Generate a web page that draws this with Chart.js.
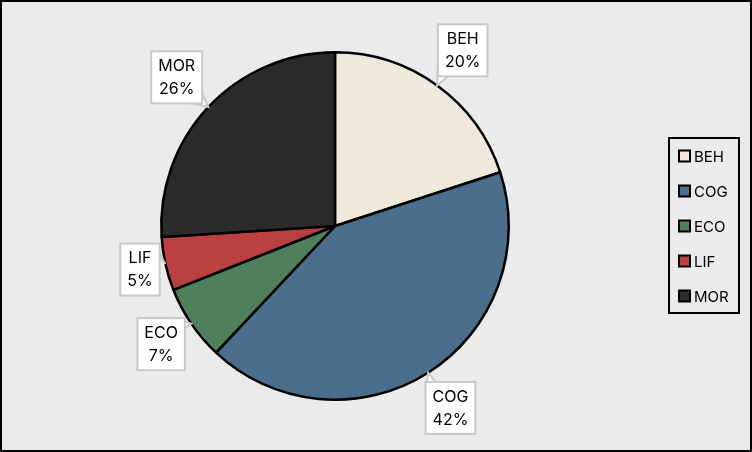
<!DOCTYPE html>
<html>
<head>
<meta charset="utf-8">
<script src="https://cdn.jsdelivr.net/npm/chart.js@4/dist/chart.umd.min.js"></script>
<style>
  html, body { margin: 0; padding: 0; background: #ebebeb; }
  #wrap { width: 752px; height: 452px; }
</style>
</head>
<body>
<div id="wrap"><canvas id="myChart" width="752" height="452"></canvas></div>
<script>
const labels = ['BEH', 'COG', 'ECO', 'LIF', 'MOR'];
const shares = [20, 42, 7, 5, 26];
const colors = ['#efe8dc', '#4a6e8b', '#4f7f5b', '#bb4040', '#2b2b2b'];

const FONT = 'Inter, "Liberation Sans", sans-serif';
// how far out each callout sits, as a multiple of the pie radius
const calloutDist = [1.25, 1.24, 1.21, 1.15, 1.25];

// background + outer frame
const frame = {
  id: 'frame',
  beforeDraw(chart) {
    const ctx = chart.ctx;
    ctx.save();
    ctx.fillStyle = '#ebebeb';
    ctx.fillRect(0, 0, chart.width, chart.height);
    ctx.restore();
  },
  afterDraw(chart) {
    const ctx = chart.ctx;
    ctx.save();
    ctx.strokeStyle = '#000';
    ctx.lineWidth = 2;
    ctx.strokeRect(1, 1, chart.width - 2, chart.height - 2);
    ctx.restore();
  }
};

// callout labels with pointer
const callouts = {
  id: 'callouts',
  afterDatasetsDraw(chart) {
    const ctx = chart.ctx;
    const meta = chart.getDatasetMeta(0);
    const vals = chart.data.datasets[0].data;
    const total = vals.reduce((a, b) => a + b, 0);
    ctx.save();
    ctx.font = '16px ' + FONT;
    meta.data.forEach((arc, i) => {
      const p = arc.getProps(['x', 'y', 'startAngle', 'endAngle', 'outerRadius'], true);
      const mid = (p.startAngle + p.endAngle) / 2;
      const cos = Math.cos(mid), sin = Math.sin(mid);
      const tx = p.x + p.outerRadius * cos;
      const ty = p.y + p.outerRadius * sin;
      const bx = p.x + p.outerRadius * calloutDist[i] * cos;
      const by = p.y + p.outerRadius * calloutDist[i] * sin;
      const l1 = chart.data.labels[i];
      const l2 = Math.round(vals[i] / total * 100) + '%';
      const w = Math.max(ctx.measureText(l1).width, ctx.measureText(l2).width) + 14;
      const h = 52;
      const x0 = bx - w / 2, y0 = by - h / 2;
      // corner nearest the tip
      const cx = tx < bx ? x0 : x0 + w;
      const cy = ty < by ? y0 : y0 + h;
      const sx = tx < bx ? 1 : -1;
      const sy = ty < by ? 1 : -1;
      ctx.beginPath();
      ctx.moveTo(tx, ty);
      ctx.lineTo(cx + sx * 10, cy);
      ctx.lineTo(cx, cy + sy * 10);
      ctx.closePath();
      ctx.fillStyle = '#fff';
      ctx.fill();
      ctx.strokeStyle = '#c8c8c8';
      ctx.lineWidth = 2;
      ctx.stroke();
      ctx.fillRect(x0, y0, w, h);
      ctx.strokeRect(x0, y0, w, h);
      ctx.fillStyle = '#000';
      ctx.textAlign = 'center';
      ctx.textBaseline = 'middle';
      ctx.fillText(l1, bx, by - 11);
      ctx.fillText(l2, bx, by + 12);
    });
    ctx.restore();
  }
};

// boxed legend on the right
const boxLegend = {
  id: 'boxLegend',
  afterDraw(chart) {
    const ctx = chart.ctx;
    const left = 669, top = 138, bw = 70, bh = 175;
    ctx.save();
    ctx.strokeStyle = '#000';
    ctx.lineWidth = 2;
    ctx.strokeRect(left, top, bw, bh);
    ctx.font = '15px ' + FONT;
    ctx.textBaseline = 'middle';
    ctx.textAlign = 'left';
    chart.data.labels.forEach((lab, i) => {
      const yc = top + 18 + i * 35;
      ctx.fillStyle = colors[i];
      ctx.fillRect(679, yc - 5.5, 11, 11);
      ctx.strokeStyle = '#000';
      ctx.lineWidth = 2;
      ctx.strokeRect(679, yc - 5.5, 11, 11);
      ctx.fillStyle = '#000';
      ctx.fillText(lab, 694, yc + 1);
    });
    ctx.restore();
  }
};

const data = {
  labels: labels,
  datasets: [{
    data: shares,
    backgroundColor: colors,
    borderColor: '#000',
    borderWidth: 2.5
  }]
};

const config = {
  type: 'pie',
  data: data,
  options: {
    responsive: false,
    animation: false,
    layout: { padding: { left: 140, right: 222, top: 51, bottom: 51 } },
    plugins: {
      legend: { display: false },
      tooltip: { enabled: false }
    }
  },
  plugins: [frame, callouts, boxLegend]
};

const myChart = new Chart(document.getElementById('myChart'), config);
</script>
</body>
</html>
